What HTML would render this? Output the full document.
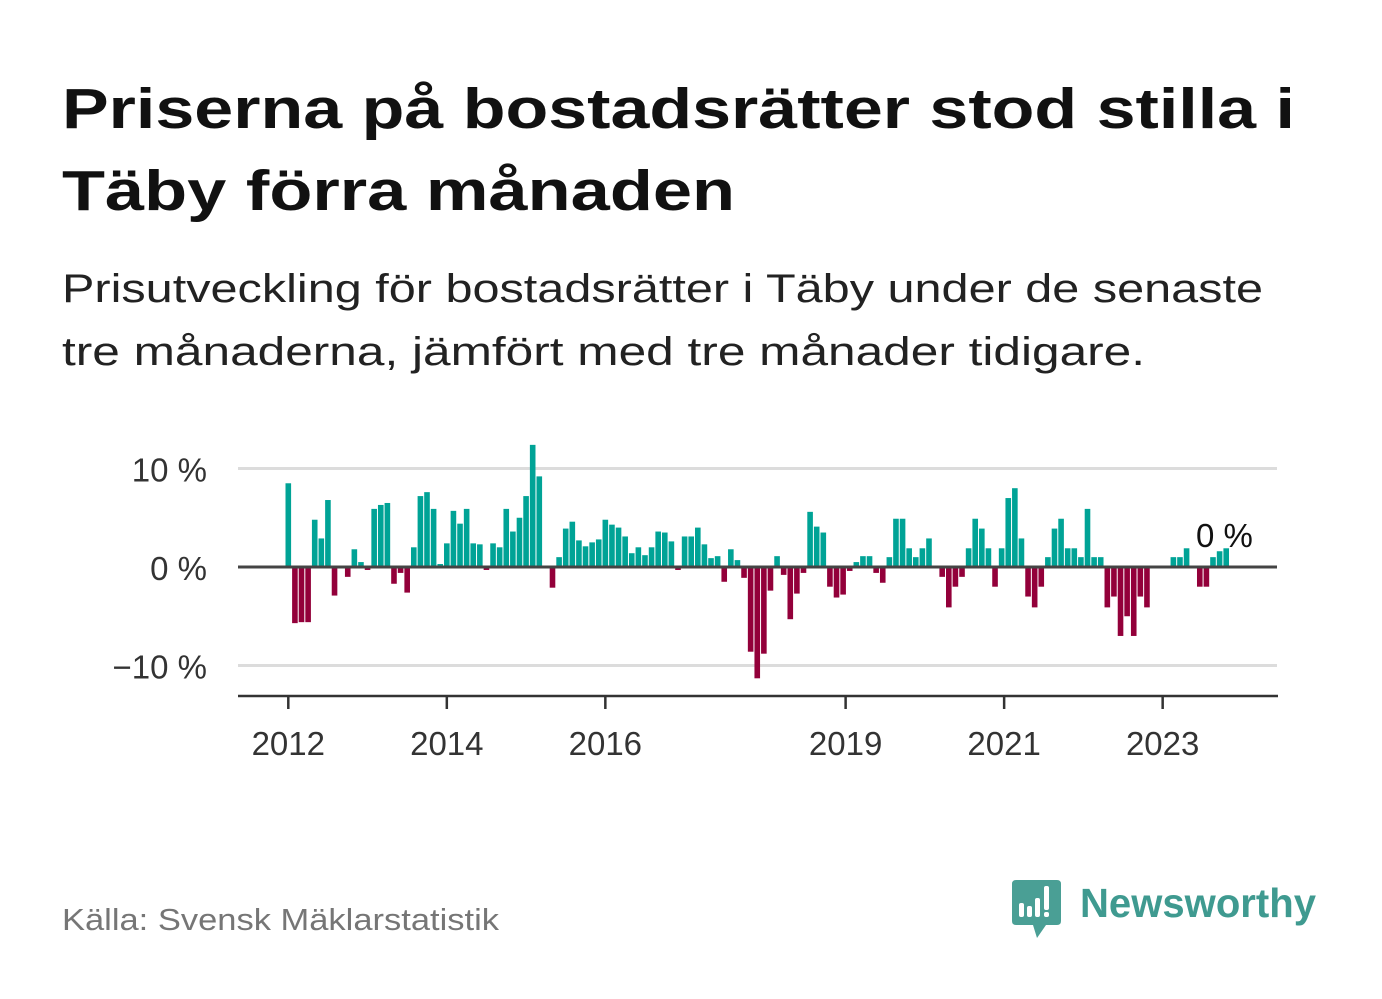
<!DOCTYPE html>
<html><head><meta charset="utf-8"><style>
html,body{margin:0;padding:0;background:#fff;}
svg{display:block;font-family:"Liberation Sans",sans-serif;}
</style></head><body>
<svg id="chart" width="1382" height="999" viewBox="0 0 1382 999" xmlns="http://www.w3.org/2000/svg">
<text x="62" y="128" font-size="57" font-weight="bold" fill="#111" textLength="1233" lengthAdjust="spacingAndGlyphs">Priserna på bostadsrätter stod stilla i</text>
<text x="62" y="210" font-size="57" font-weight="bold" fill="#111" textLength="673" lengthAdjust="spacingAndGlyphs">Täby förra månaden</text>
<text x="62" y="302" font-size="40" fill="#222" textLength="1201" lengthAdjust="spacingAndGlyphs">Prisutveckling för bostadsrätter i Täby under de senaste</text>
<text x="62" y="365" font-size="40" fill="#222" textLength="1083" lengthAdjust="spacingAndGlyphs">tre månaderna, jämfört med tre månader tidigare.</text>
<g id="grid"></g>
<g id="bars"></g>
<g id="axes"></g>
<text x="1196" y="547" font-size="33" fill="#111">0 %</text>
<text x="62" y="930" font-size="31" fill="#767676" textLength="437" lengthAdjust="spacingAndGlyphs">Källa: Svensk Mäklarstatistik</text>
<g>
<path d="M1016 880 H1057 Q1061 880 1061 884 V921 Q1061 925 1057 925 H1046 L1037 938 L1033 925 H1016 Q1012 925 1012 921 V884 Q1012 880 1016 880 Z" fill="#4a9f95"/>
<rect x="1019" y="903" width="5" height="14" rx="2" fill="#fff"/>
<rect x="1027" y="906" width="5" height="11" rx="2" fill="#fff"/>
<rect x="1035" y="898" width="5" height="19" rx="2" fill="#fff"/>
<rect x="1044" y="886" width="5" height="24" rx="2" fill="#fff"/>
<rect x="1044" y="912" width="5" height="5" rx="2" fill="#fff"/>
<text x="1080" y="917" font-size="41" font-weight="bold" fill="#3f9a90" textLength="236" lengthAdjust="spacingAndGlyphs">Newsworthy</text>
</g>
<script>
const values = [8.5,-5.7,-5.6,-5.6,4.8,2.9,6.8,-2.9,0,-1.0,1.8,0.5,-0.3,5.9,6.3,6.5,-1.7,-0.6,-2.6,2.0,7.2,7.6,5.9,0.3,2.4,5.7,4.4,5.9,2.4,2.3,-0.3,2.4,2.0,5.9,3.6,5.0,7.2,12.4,9.2,0,-2.1,1.0,3.9,4.6,2.7,2.1,2.5,2.8,4.8,4.3,4.0,3.1,1.4,2.0,1.2,2.0,3.6,3.5,2.6,-0.3,3.1,3.1,4.0,2.3,0.9,1.1,-1.5,1.8,0.7,-1.1,-8.6,-11.3,-8.8,-2.4,1.1,-0.8,-5.3,-2.7,-0.6,5.6,4.1,3.5,-2.0,-3.1,-2.8,-0.4,0.5,1.1,1.1,-0.6,-1.6,1.0,4.9,4.9,1.9,1.0,1.9,2.9,0,-1.0,-4.1,-2.0,-1.0,1.9,4.9,3.9,1.9,-2.0,1.9,7.0,8.0,2.9,-3.0,-4.1,-2.0,1.0,3.9,4.9,1.9,1.9,1.0,5.9,1.0,1.0,-4.1,-3.0,-7.0,-5.0,-7.0,-3.0,-4.1,0,0,0,1.0,1.0,1.9,0,-2.0,-2.0,1.0,1.6,1.9];
const yTicks = [10,0,-10];
const yTickLabels = ["10 %","0 %","\u221210 %"];
const xTickIdx = [0,24,48,84,108,132];
const xTickLabels = ["2012","2014","2016","2019","2021","2023"];
const NS="http://www.w3.org/2000/svg";
function xs(i){return 288.3+6.605*i;}
function ys(v){return 567-9.85*v;}
const grid=document.getElementById('grid'),bars=document.getElementById('bars'),axes=document.getElementById('axes');
function mk(tag,attrs,parent){const e=document.createElementNS(NS,tag);for(const k in attrs)e.setAttribute(k,attrs[k]);parent.appendChild(e);return e;}
yTicks.forEach((t,k)=>{
  if(t!==0){const l=mk('line',{x1:238,x2:1277,y1:ys(t),y2:ys(t),stroke:'#dcdcdc','stroke-width':3},grid);
  
  }
  const tx=mk('text',{x:207,y:ys(t)+13,'font-size':33,fill:'#333','text-anchor':'end'},axes);
  tx.textContent=yTickLabels[k];
  
  
});
values.forEach((v,i)=>{
  if(v===0)return;
  const y0=ys(0),y1=ys(v);
  const r=mk('rect',{x:xs(i)-2.8,width:5.6,y:Math.min(y0,y1),height:Math.abs(y1-y0),fill:v>0?'#00a396':'#93003a'},bars);
  
  
});
const z=mk('line',{x1:238,x2:1277,y1:ys(0),y2:ys(0),stroke:'#444','stroke-width':3},axes);


const xa=mk('line',{x1:238,x2:1278,y1:696,y2:696,stroke:'#333','stroke-width':2.5},axes);


xTickIdx.forEach((ix,k)=>{
  const x=xs(ix)+(k>=3?2.5:0);
  const t=mk('line',{x1:x,x2:x,y1:696,y2:709,stroke:'#333','stroke-width':2.5},axes);
  
  
  const tx=mk('text',{x:x,y:755,'font-size':33,fill:'#333','text-anchor':'middle'},axes);
  tx.textContent=xTickLabels[k];
  
  
});
</script>
</svg>
</body></html>
